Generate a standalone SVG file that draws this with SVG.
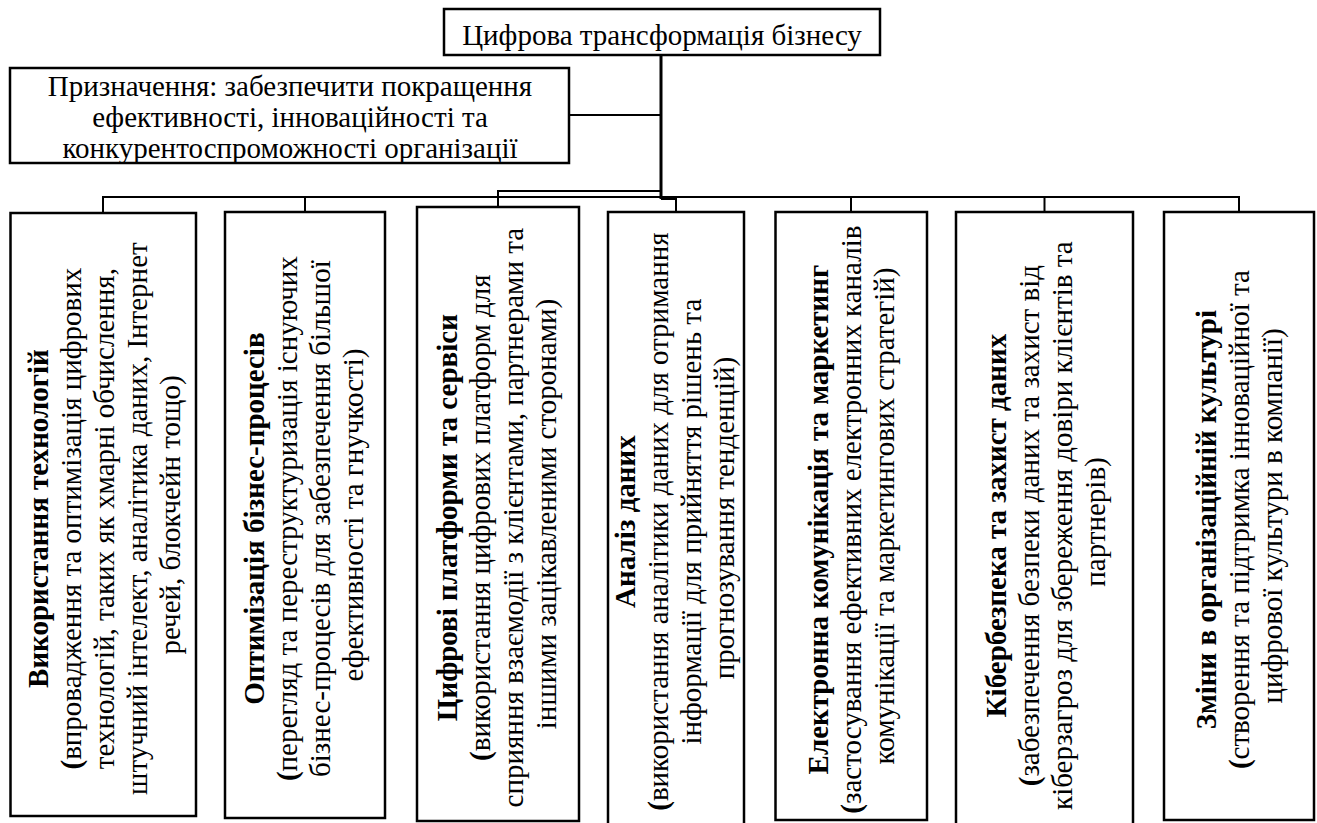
<svg xmlns="http://www.w3.org/2000/svg" width="1317" height="823" viewBox="0 0 1317 823">
<style>
.box{fill:#fff;stroke:#000;stroke-width:2.5}
.t{font-family:'Liberation Serif','Times New Roman',serif;font-size:29px;fill:#000}
.v{text-anchor:middle}
.b{font-weight:bold}
.ln{fill:none;stroke:#000;stroke-width:2}
</style>
<rect width="1317" height="823" fill="#fff"/>
<g id="connectors">
<path class="ln" d="M569 115 H661"/>
<path class="ln" d="M498 207 V191 H661"/>
<path class="ln" d="M103 213 V197 H1239 V212"/>
<path class="ln" d="M305 197 V212"/>
<path class="ln" d="M851 197 V212"/>
<path class="ln" d="M1044.5 197 V212"/>
<path class="ln" d="M661 199 H676 V212"/>
<path class="ln" style="stroke-width:3" d="M661 55 V199"/>
</g>
<g id="root">
<rect class="box" x="444" y="9" width="436" height="46"/>
<text class="t v" x="662" y="45">Цифрова трансформація бізнесу</text>
</g>
<g id="purpose">
<rect class="box" x="10" y="68" width="559" height="95"/>
<text class="t v" x="290" y="96">Призначення: забезпечити покращення</text>
<text class="t v" x="290" y="127">ефективності, інноваційності та</text>
<text class="t v" x="290" y="158">конкурентоспроможності організації</text>
</g>
<g id="n1">
<rect class="box" x="10.5" y="213" width="185.5" height="603"/>
<text class="t v" transform="translate(106 515) rotate(-90)">
<tspan class="b" x="0" y="-58">Використання технологій</tspan>
<tspan x="0" y="-25"><tspan class="b">(</tspan>впровадження та оптимізація цифрових</tspan>
<tspan x="0" y="8">технологій, таких як хмарні обчислення,</tspan>
<tspan x="0" y="41">штучний інтелект, аналітика даних, Інтернет</tspan>
<tspan x="0" y="74">речей, блокчейн тощо)</tspan>
</text>
</g>
<g id="n2">
<rect class="box" x="225" y="212" width="160" height="606"/>
<text class="t v" transform="translate(305 515) rotate(-90)">
<tspan class="b" x="0" y="-41.5">Оптимізація бізнес-процесів</tspan>
<tspan x="0" y="-8.5"><tspan class="b">(</tspan>перегляд та переструктуризація існуючих</tspan>
<tspan x="0" y="24.5">бізнес-процесів для забезпечення більшої</tspan>
<tspan x="0" y="57.5">ефективності та гнучкості)</tspan>
</text>
</g>
<g id="n3">
<rect class="box" x="417" y="207" width="162" height="614"/>
<text class="t v" transform="translate(498 514) rotate(-90)">
<tspan class="b" x="0" y="-41.5">Цифрові платформи та сервіси</tspan>
<tspan x="0" y="-8.5"><tspan class="b">(</tspan>використання цифрових платформ для</tspan>
<tspan x="0" y="24.5">сприяння взаємодії з клієнтами, партнерами та</tspan>
<tspan x="0" y="57.5">іншими зацікавленими сторонами)</tspan>
</text>
</g>
<g id="n4">
<rect class="box" x="608" y="212" width="136" height="640"/>
<text class="t v" transform="translate(676 518) rotate(-90)">
<tspan class="b" x="0" y="-41.5">Аналіз даних</tspan>
<tspan x="0" y="-8.5"><tspan class="b">(</tspan>використання аналітики даних для отримання</tspan>
<tspan x="0" y="24.5">інформації для прийняття рішень та</tspan>
<tspan x="0" y="57.5">прогнозування тенденцій)</tspan>
</text>
</g>
<g id="n5">
<rect class="box" x="775.5" y="212" width="151.5" height="608"/>
<text class="t v" transform="translate(853 516) rotate(-90)">
<tspan class="b" x="0" y="-25">Електронна комунікація та маркетинг</tspan>
<tspan x="0" y="8"><tspan class="b">(</tspan>застосування ефективних електронних каналів</tspan>
<tspan x="0" y="41">комунікації та маркетингових стратегій)</tspan>
</text>
</g>
<g id="n6">
<rect class="box" x="956" y="212" width="177" height="640"/>
<text class="t v" transform="translate(1047 522) rotate(-90)">
<tspan class="b" x="0" y="-41.5">Кібербезпека та захист даних</tspan>
<tspan x="0" y="-8.5"><tspan class="b">(</tspan>забезпечення безпеки даних та захист від</tspan>
<tspan x="0" y="24.5">кіберзагроз для збереження довіри клієнтів та</tspan>
<tspan x="0" y="57.5">партнерів)</tspan>
</text>
</g>
<g id="n7">
<rect class="box" x="1164" y="212" width="150" height="608"/>
<text class="t v" transform="translate(1241 516) rotate(-90)">
<tspan class="b" x="0" y="-25">Зміни в організаційній культурі</tspan>
<tspan x="0" y="8"><tspan class="b">(</tspan>створення та підтримка інноваційної та</tspan>
<tspan x="0" y="41">цифрової культури в компанії)</tspan>
</text>
</g>
</svg>
